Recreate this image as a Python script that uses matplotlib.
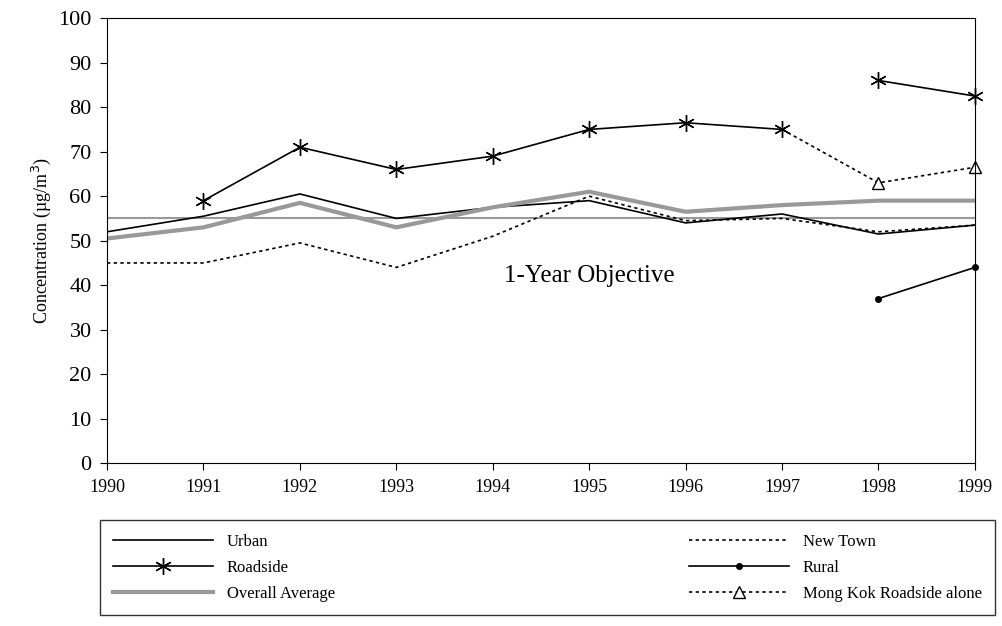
import numpy as np
import matplotlib.pyplot as plt
from matplotlib.lines import Line2D

plt.rcParams['font.family'] = ['Liberation Serif', 'DejaVu Serif']

years = np.arange(1990, 2000)
urban = [52, 55.5, 60.5, 55, 57.5, 59, 54, 56, 51.5, 53.5]
new_town = [45, 45, 49.5, 44, 51, 60, 54.5, 55, 52, 53.5]
roadside = [np.nan, 59, 71, 66, 69, 75, 76.5, 75, np.nan, np.nan]
roadside_late = [np.nan] * 8 + [86, 82.5]
rural = [np.nan] * 8 + [37, 44]
overall = [50.5, 53, 58.5, 53, 57.5, 61, 56.5, 58, 59, 59]
mongkok = [np.nan] * 7 + [75, 63, 66.5]
objective = 55

fig = plt.figure(figsize=(10.03, 6.26), dpi=100)
ax = fig.add_axes([0.1067, 0.260, 0.8653, 0.711])

ax.axhline(objective, color='#999999', lw=1.5, zorder=1)
h1, = ax.plot(years, urban, color='black', lw=1.2, label='Urban')
h2, = ax.plot(years, new_town, color='black', lw=1.2, ls=(0, (2, 2)), label='New Town')
h3, = ax.plot(years, roadside, color='black', lw=1.2, marker=(6, 2, 0), ms=12, label='Roadside',
              clip_on=False)
ax.plot(years, roadside_late, color='black', lw=1.2, marker=(6, 2, 0), ms=12, clip_on=False)
h4, = ax.plot(years, rural, color='black', lw=1.2, marker='o', ms=4, label='Rural', clip_on=False)
h5, = ax.plot(years, overall, color='#999999', lw=3, label='Overall Average')
ax.plot(years, mongkok, color='black', lw=1.2, ls=(0, (2, 2)), marker='^', mfc='white', ms=9,
        markevery=[8, 9], clip_on=False)
h6 = Line2D([], [], color='black', lw=1.2, ls=(0, (2, 2)), marker='^', mfc='white', ms=9,
            label='Mong Kok Roadside alone')

ax.text(1995, 42, '1-Year Objective', fontsize=18, ha='center', va='center')

ax.set_xlim(1990, 1999)
ax.set_ylim(0, 100)
ax.set_xticks(years)
ax.set_yticks(range(0, 101, 10))
ax.tick_params(axis='x', labelsize=13, direction='out', length=5, pad=6)
ax.tick_params(axis='y', labelsize=16, direction='out', length=5, pad=6)
ax.set_ylabel('Concentration (µg/m$^3$)', fontsize=13)

fig.legend(handles=[h1, h3, h5, h2, h4, h6], ncol=2, loc='lower left',
           bbox_to_anchor=(100 / 1003, 11 / 626, 895 / 1003, 115 / 626), mode='expand',
           frameon=True, fancybox=False, edgecolor='black', fontsize=12,
           handlelength=6, borderaxespad=0, labelspacing=0.6, borderpad=0.8)

fig.savefig('out.png', dpi=100)
